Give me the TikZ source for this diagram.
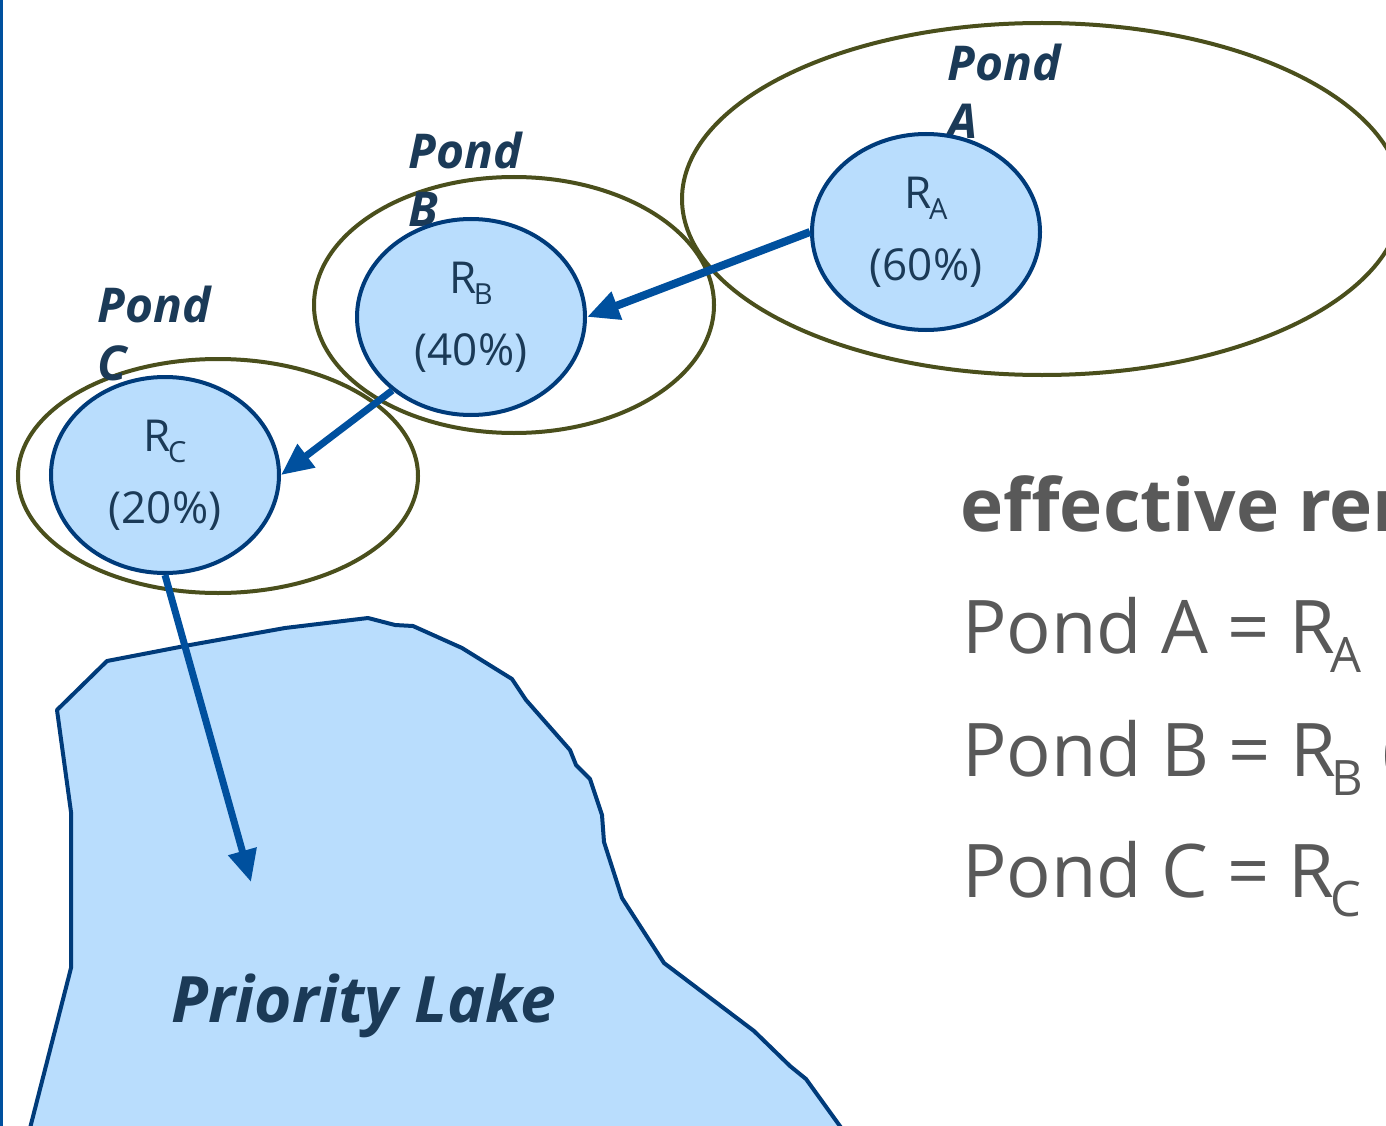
\documentclass[tikz,border=0pt]{standalone}
\usepackage{fontspec}
\setmainfont{Open Sans}
\usetikzlibrary{arrows.meta,shapes.geometric}
\definecolor{pondline}{RGB}{74,79,28}
\definecolor{lakefill}{RGB}{185,221,253}
\definecolor{lakeline}{RGB}{0,59,122}
\definecolor{flowblue}{RGB}{0,80,158}
\definecolor{navytext}{RGB}{27,58,87}
\definecolor{graytext}{RGB}{89,89,89}
\newcommand\sbs[1]{\kern-0.06em\raisebox{-0.26em}{\scalebox{0.66}{#1}}}
\begin{document}
\begin{tikzpicture}[x=1pt,y=-1pt,
  pondring/.style={draw=pondline,line width=4pt,ellipse,inner sep=0pt},
  pondcirc/.style={draw=lakeline,fill=lakefill,line width=4pt,ellipse,inner sep=0pt,
    minimum width=228pt,minimum height=196pt,align=center,text=navytext,
    font=\fontsize{44}{72}\selectfont},
  pondlabel/.style={anchor=north west,inner sep=0pt,align=left,text=navytext,
    font=\fontsize{48}{58}\selectfont\bfseries\itshape},
  flow/.style={draw=flowblue,line width=8pt,-{Triangle[length=32pt,width=28pt]}},
  eqtext/.style={anchor=base west,inner sep=0pt,text=graytext,font=\fontsize{74}{80}\selectfont}
]
\useasboundingbox (0,0) rectangle (1386,1126);
\fill[white] (0,0) rectangle (1386,1126);
\begin{scope}
\clip (0,0) rectangle (1386,1126);
% lake
\draw[draw=lakeline,fill=lakefill,line width=4pt,line join=round]
  (27,1140) -- (71,968) -- (71,812) -- (57,710) -- (107,661) -- (190,645) -- (285,628)
  -- (368,618) -- (395,625) -- (413,626) -- (462,648) -- (512,679) -- (526,700)
  -- (570,750) -- (576,765) -- (590,779) -- (602,815) -- (604,842) -- (622,898)
  -- (664,963) -- (754,1031) -- (790,1066) -- (806,1079) -- (850,1140) -- cycle;
\node[text=navytext,font=\fontsize{64}{70}\selectfont\bfseries\itshape,inner sep=0pt] (lake) at (364,1006) {Priority Lake};
% pond outlines
\node[pondring,minimum width=720pt,minimum height=352pt] (pondA) at (1042,199) {};
\node[pondring,minimum width=400pt,minimum height=256pt] (pondB) at (514,305) {};
\node[pondring,minimum width=400pt,minimum height=234pt] (pondC) at (218,476) {};
% labels
\node[pondlabel] (labA) at (947,44) {Pond\\A};
\node[pondlabel] (labB) at (408,132) {Pond\\B};
\node[pondlabel] (labC) at (97,286) {Pond\\C};
% removal circles
\node[pondcirc] (RA) at (926,232) {R\sbs{A}\\(60\%)};
\node[pondcirc] (RB) at (471,317) {R\sbs{B}\\(40\%)};
\node[pondcirc] (RC) at (165,475) {R\sbs{C}\\(20\%)};
% flows
\coordinate (lakein) at (251,882);
\draw[flow] (RA.west) -- (RB.east);
\draw[flow,line width=7pt] (RB.223) -- (RC.east);
\draw[flow,line width=7pt] (RC.south) -- (lakein);
% right text
\node[eqtext,font=\fontsize{73}{80}\selectfont\bfseries] (eff) at (960,531) {effective rem};
\node[eqtext] (eqA) at (962,653) {Pond A = R\sbs{A}};
\node[eqtext] (eqB) at (962,776) {Pond B = R\sbs{B} (};
\node[eqtext] (eqC) at (962,897) {Pond C = R\sbs{C}};
\end{scope}
\draw[draw=flowblue,line width=3pt] (1,0) -- (1,1126);
\end{tikzpicture}
\end{document}
